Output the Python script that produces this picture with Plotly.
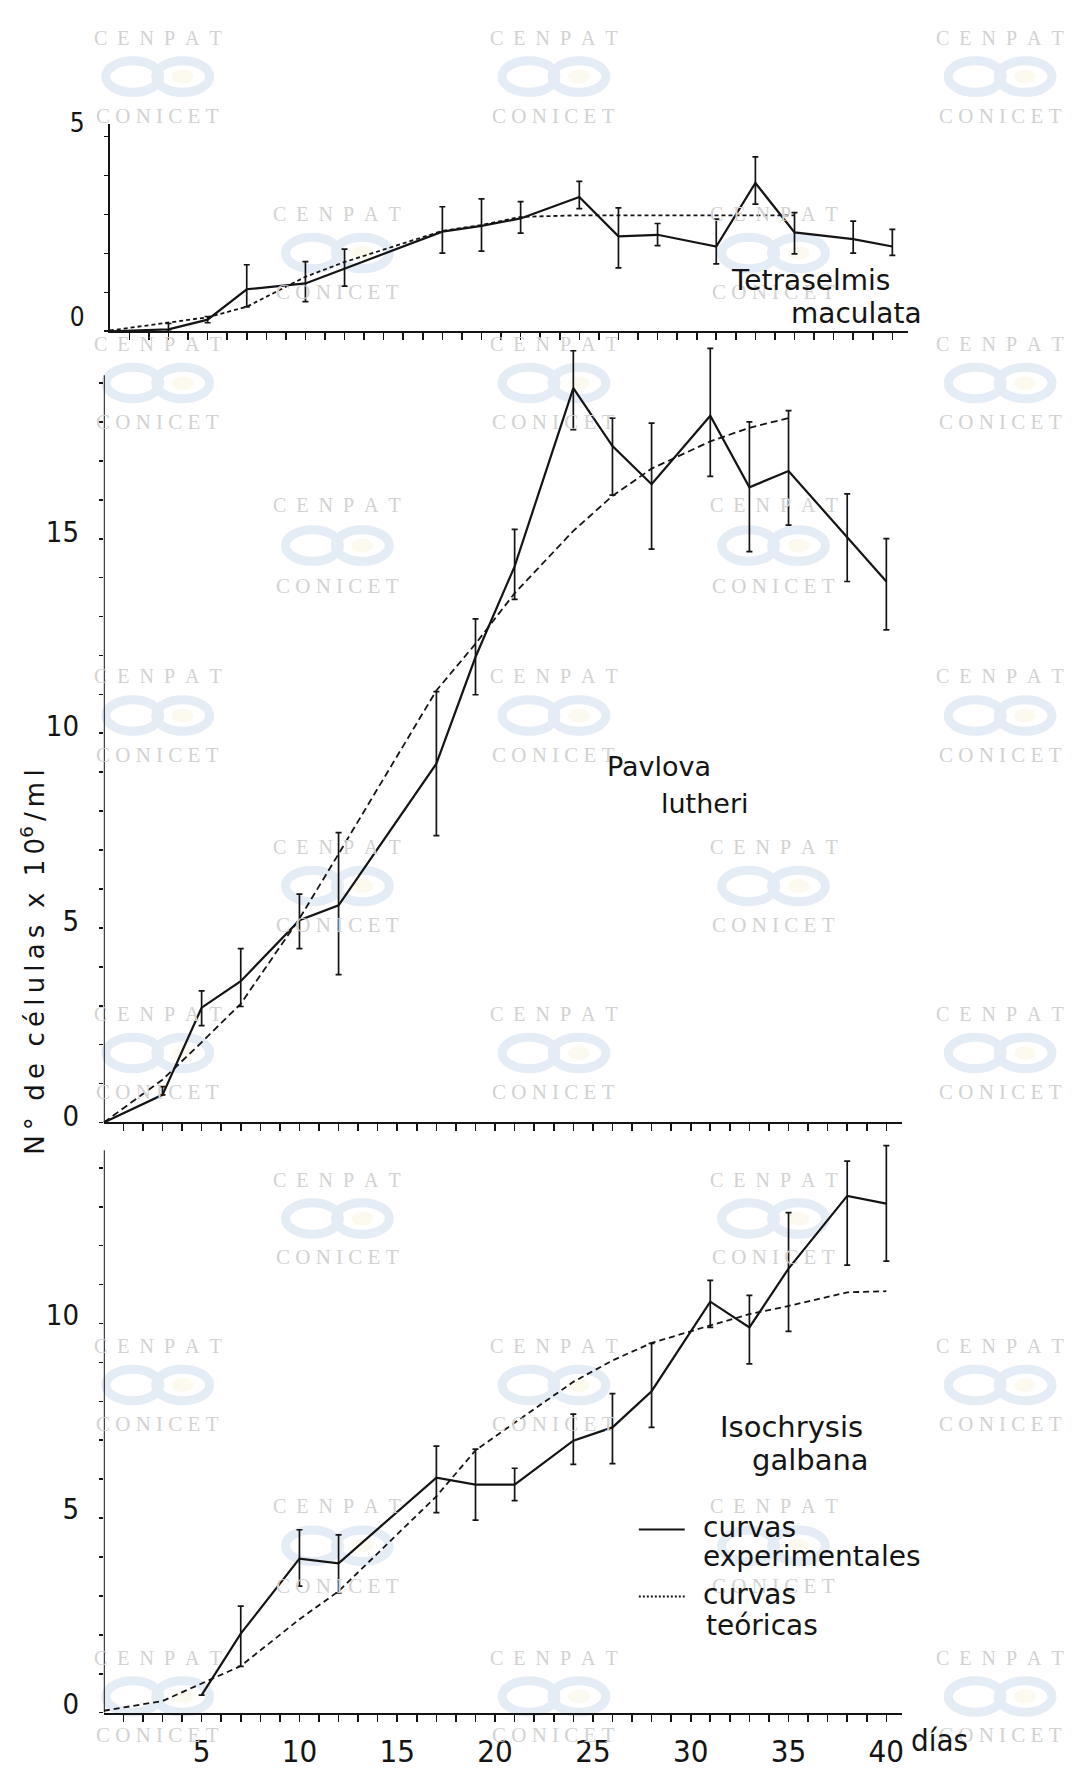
import plotly.graph_objects as go

W, H = 1074, 1769

# ---------------- data ----------------
# Tetraselmis maculata (top panel)
days_tetra = [0, 3, 5, 7, 10, 12, 17, 19, 21, 24, 26, 28, 31, 33, 35, 38, 40]
exp_tetra = [0.0, 0.05, 0.3, 1.08, 1.23, 1.61, 2.56, 2.71, 2.9, 3.45, 2.44, 2.48, 2.18, 3.81, 2.54, 2.37, 2.18]
err_tetra_up = [0, 0.15, 0.08, 0.63, 0.56, 0.5, 0.64, 0.69, 0.43, 0.4, 0.73, 0.29, 0.7, 0.67, 0.51, 0.46, 0.44]
err_tetra_dn = [0, 0.05, 0.08, 0.45, 0.47, 0.45, 0.55, 0.65, 0.38, 0.3, 0.81, 0.28, 0.45, 0.54, 0.55, 0.36, 0.23]
days_tetra_theo = [0, 3, 5, 7, 10, 12, 17, 19, 21, 24, 26, 28, 31, 33, 35]
theo_tetra = [0.02, 0.23, 0.36, 0.63, 1.40, 1.78, 2.58, 2.73, 2.94, 2.98, 2.98, 2.98, 2.98, 2.98, 2.98]

# Pavlova lutheri (middle panel)
days_pav = [0, 3, 5, 7, 10, 12, 17, 19, 21, 24, 26, 28, 31, 33, 35, 38, 40]
exp_pav = [0.0, 0.71, 2.95, 3.63, 5.2, 5.58, 9.22, 11.96, 14.29, 18.87, 17.38, 16.4, 18.16, 16.32, 16.74, 15.05, 13.9]
err_pav_up = [0, 0.21, 0.43, 0.84, 0.67, 1.87, 1.85, 0.98, 0.95, 0.96, 0.72, 1.57, 1.73, 1.68, 1.55, 1.1, 1.1]
err_pav_dn = [0, 0.0, 0.46, 0.65, 0.73, 1.78, 1.85, 0.97, 0.85, 1.07, 1.26, 1.67, 1.56, 1.65, 1.39, 1.15, 1.24]
days_pav_theo = [0, 3, 5, 7, 10, 12, 17, 19, 21, 24, 26, 28, 31, 33, 35]
theo_pav = [0.0, 1.1, 2.06, 3.05, 5.24, 6.9, 11.1, 12.3, 13.6, 15.2, 16.1, 16.8, 17.5, 17.85, 18.1]

# Isochrysis galbana (bottom panel)
days_iso = [5, 7, 10, 12, 17, 19, 21, 24, 26, 28, 31, 33, 35, 38, 40]
exp_iso = [0.45, 2.03, 3.96, 3.84, 6.04, 5.86, 5.86, 6.99, 7.33, 8.26, 10.56, 9.9, 11.41, 13.28, 13.08]
err_iso_up = [0, 0.71, 0.74, 0.73, 0.81, 0.91, 0.42, 0.68, 0.87, 1.23, 0.55, 0.82, 1.44, 0.89, 1.49]
err_iso_dn = [0, 0.84, 0.71, 0.76, 0.9, 0.91, 0.41, 0.61, 0.93, 0.93, 0.66, 0.94, 1.61, 1.78, 1.48]
days_iso_theo = [0, 3, 5, 7, 10, 12, 17, 19, 21, 24, 26, 28, 31, 33, 35, 38, 40]
theo_iso = [0.05, 0.3, 0.75, 1.2, 2.4, 3.12, 5.56, 6.74, 7.45, 8.5, 9.05, 9.5, 9.95, 10.24, 10.45, 10.8, 10.83]

# ticks
x_label_vals = [5, 10, 15, 20, 25, 30, 35, 40]
x_label_text = ["5", "10", "15", "20", "25", "30", "35", "40"]
x_minor_vals = list(range(1, 41))
y_top_labels = [0, 5]
y_mid_labels = [0, 5, 10, 15]
y_bot_labels = [0, 5, 10]
y_top_minor = list(range(0, 6))
y_mid_minor = list(range(0, 20))
y_bot_minor = list(range(0, 15))


# ---------------- layout helpers ----------------
def fx(px):
    return px / W


def fy(py):
    return 1 - py / H


INK = "#141414"
NARROW = "Liberation Sans Narrow, DejaVu Sans Condensed, Liberation Sans, sans-serif"
SANS = "DejaVu Sans, Liberation Sans, sans-serif"

fig = go.Figure()

# ---------------- watermark (scanned archive stamp) ----------------
tri_cenpat = [22, 333, 670, 1013, 1350, 1666]
tri_conicet = [101, 412, 750, 1092, 1429, 1745]
pair_cenpat = [201, 496, 843, 1181, 1512]
pair_conicet = [280, 579, 923, 1260, 1593]
tri_x = [158, 555, 1002]
pair_x = [338, 775]
shapes = []
annotations = []
WM_GRAY = "#d2d2d2"
wm_font_a = dict(family="Liberation Serif, DejaVu Serif, serif", size=20, color=WM_GRAY)
wm_font_b = dict(family="Liberation Serif, DejaVu Serif, serif", size=21, color=WM_GRAY)
NB = "\u00a0"
cenpat_txt = (NB * 2).join("CENPAT")
conicet_txt = NB.join("CONICET")


def add_wm(xc, y1, y2):
    annotations.append(dict(x=fx(xc), y=fy(y1), xref="paper", yref="paper", text=cenpat_txt,
                            showarrow=False, font=wm_font_a, xanchor="center", yanchor="middle"))
    annotations.append(dict(x=fx(xc), y=fy(y2), xref="paper", yref="paper", text=conicet_txt,
                            showarrow=False, font=wm_font_b, xanchor="center", yanchor="middle"))
    ym = (y1 + y2) / 2
    for dx in (-25, 25):
        shapes.append(dict(type="circle", xref="paper", yref="paper",
                           x0=fx(xc + dx - 27), x1=fx(xc + dx + 27),
                           y0=fy(ym - 16), y1=fy(ym + 16),
                           line=dict(color="#e4ecf6", width=9), layer="below"))
    shapes.append(dict(type="circle", xref="paper", yref="paper",
                       x0=fx(xc + 14), x1=fx(xc + 36), y0=fy(ym - 7), y1=fy(ym + 7),
                       line=dict(width=0), fillcolor="#fcf9ee", layer="below"))


for yc1, yc2 in zip(tri_cenpat, tri_conicet):
    for xc in tri_x:
        add_wm(xc, yc1, yc2)
for yc1, yc2 in zip(pair_cenpat, pair_conicet):
    for xc in pair_x:
        add_wm(xc, yc1, yc2)


def err(up, dn):
    return dict(type="data", symmetric=False, array=up, arrayminus=dn,
                width=3, thickness=1.7, color=INK)


# bottom panel: x / y
fig.add_trace(go.Scatter(x=days_iso_theo, y=theo_iso, mode="lines", xaxis="x", yaxis="y",
                         line=dict(color=INK, width=1.8, dash="6px,4px"), showlegend=False))
fig.add_trace(go.Scatter(x=days_iso, y=exp_iso, mode="lines", xaxis="x", yaxis="y",
                         line=dict(color=INK, width=2.2), error_y=err(err_iso_up, err_iso_dn),
                         showlegend=False))
# middle panel: x2 / y2
fig.add_trace(go.Scatter(x=days_pav_theo, y=theo_pav, mode="lines", xaxis="x2", yaxis="y2",
                         line=dict(color=INK, width=1.8, dash="7px,4px"), showlegend=False))
fig.add_trace(go.Scatter(x=days_pav, y=exp_pav, mode="lines", xaxis="x2", yaxis="y2",
                         line=dict(color=INK, width=2.2), error_y=err(err_pav_up, err_pav_dn),
                         showlegend=False))
# top panel: x3 / y3
fig.add_trace(go.Scatter(x=days_tetra_theo, y=theo_tetra, mode="lines", xaxis="x3", yaxis="y3",
                         line=dict(color=INK, width=1.8, dash="4px,3px"), showlegend=False))
fig.add_trace(go.Scatter(x=days_tetra, y=exp_tetra, mode="lines", xaxis="x3", yaxis="y3",
                         line=dict(color=INK, width=2.2), error_y=err(err_tetra_up, err_tetra_dn),
                         showlegend=False))

X_RANGE = [0, 40.8]
PXD = 19.6
TICK_MINOR = dict(ticks="outside", ticklen=7, tickwidth=1.6, tickcolor=INK)


def xaxis(left_px, labels, anchor):
    d = dict(domain=[fx(left_px), fx(left_px + PXD * X_RANGE[1])], range=X_RANGE,
             showline=True, linecolor=INK, linewidth=2, ticks="outside", ticklen=7,
             tickwidth=1.6, tickcolor=INK, showgrid=False, zeroline=False,
             anchor=anchor, fixedrange=True,
             minor=dict(tickvals=x_minor_vals, showgrid=False, **TICK_MINOR))
    if labels:
        d.update(tickvals=x_label_vals, ticktext=x_label_text, showticklabels=True,
                 ticklabelstandoff=3, tickfont=dict(family=NARROW, size=31, color=INK))
    else:
        d.update(tickvals=x_label_vals, showticklabels=False)
    return d


def yaxis(zero_px, top_val, labels, minor_vals, anchor, fsize, shift, showline=True):
    return dict(domain=[fy(zero_px), fy(zero_px - 39.5 * top_val)], range=[0, top_val],
                showline=showline, linecolor=INK, linewidth=2, ticks="outside", ticklen=4,
                tickwidth=1.6, tickcolor=INK, tickvals=labels,
                ticktext=[str(v) for v in labels],
                tickfont=dict(family=NARROW, size=fsize, color=INK), ticklabelstandoff=14,
                ticklabelshift=shift, showgrid=False, zeroline=False, anchor=anchor,
                fixedrange=True,
                minor=dict(tickvals=minor_vals, ticks="outside", ticklen=4, tickwidth=1.6,
                           tickcolor=INK, showgrid=False))


layout = dict(
    width=W, height=H, margin=dict(l=0, r=0, t=0, b=0), autosize=False,
    paper_bgcolor="white", plot_bgcolor="rgba(0,0,0,0)", showlegend=False,
    xaxis=xaxis(104, True, "y"),
    xaxis2=xaxis(104, False, "y2"),
    xaxis3=xaxis(110, False, "y3"),
    yaxis=yaxis(1722, 14.8, y_bot_labels, y_bot_minor, "x", 29, -9, showline=False),
    yaxis2=yaxis(1123, 20.0, y_mid_labels, y_mid_minor, "x2", 29, -7, showline=False),
    yaxis3=yaxis(320, 5.33, y_top_labels, y_top_minor, "x3", 26, -14),
)
fig.update_layout(**layout)

# axis lines for middle and bottom panel (shorter than the plotting area)
shapes.append(dict(type="line", xref="x2", yref="y2", x0=0, x1=0, y0=0, y1=19.2,
                   line=dict(color=INK, width=2)))
shapes.append(dict(type="line", xref="x", yref="y", x0=0, x1=0, y0=0, y1=14.45,
                   line=dict(color=INK, width=2)))

# legend glyphs
shapes.append(dict(type="line", xref="paper", yref="paper", x0=fx(640), x1=fx(686),
                   y0=fy(1536), y1=fy(1536), line=dict(color=INK, width=2)))
shapes.append(dict(type="line", xref="paper", yref="paper", x0=fx(640), x1=fx(686),
                   y0=fy(1604), y1=fy(1604), line=dict(color=INK, width=2, dash="2px,2px")))


def label(text, x, y, size=29, anchor="center"):
    annotations.append(dict(x=fx(x), y=fy(y), xref="paper", yref="paper", text=text,
                            showarrow=False, xanchor=anchor, yanchor="middle",
                            font=dict(family=SANS, size=size, color=INK)))


label("Tetraselmis", 812, 268, 28)
label("maculata", 858, 302, 28)
label("Pavlova", 660, 762, 27)
label("lutheri", 706, 799, 27)
label("Isochrysis", 793, 1432)
label("galbana", 812, 1466)
label("curvas", 702, 1534, 28, "left")
label("experimentales", 702, 1563, 28, "left")
label("curvas", 702, 1602, 28, "left")
label("teóricas", 705, 1634, 28, "left")

annotations.append(dict(x=fx(911), y=fy(1750), xref="paper", yref="paper", text="días",
                        showarrow=False, xanchor="left", yanchor="middle",
                        font=dict(family=NARROW, size=31, color=INK)))

TS = "\u2009"
title_txt = (NB * 2).join([
    TS.join("N°"), TS.join("de"), TS.join("células"), "x",
    TS.join("10") + "<sup>6</sup>" + TS + "/" + TS + TS.join("ml"),
])
annotations.append(dict(x=fx(33), y=fy(960), xref="paper", yref="paper",
                        text=title_txt, textangle=-90,
                        showarrow=False, xanchor="center", yanchor="middle",
                        font=dict(family=SANS, size=26, color=INK)))

fig.update_layout(shapes=shapes, annotations=annotations)

page_fix = ("document.documentElement.style.margin='0';document.body.style.margin='0';"
            "document.body.style.padding='0';document.body.style.overflow='hidden';"
            "document.documentElement.style.overflow='hidden';window.scrollTo(0,0);")
fig.write_html("out.html", post_script=page_fix,
               config={"displayModeBar": False, "staticPlot": True})
